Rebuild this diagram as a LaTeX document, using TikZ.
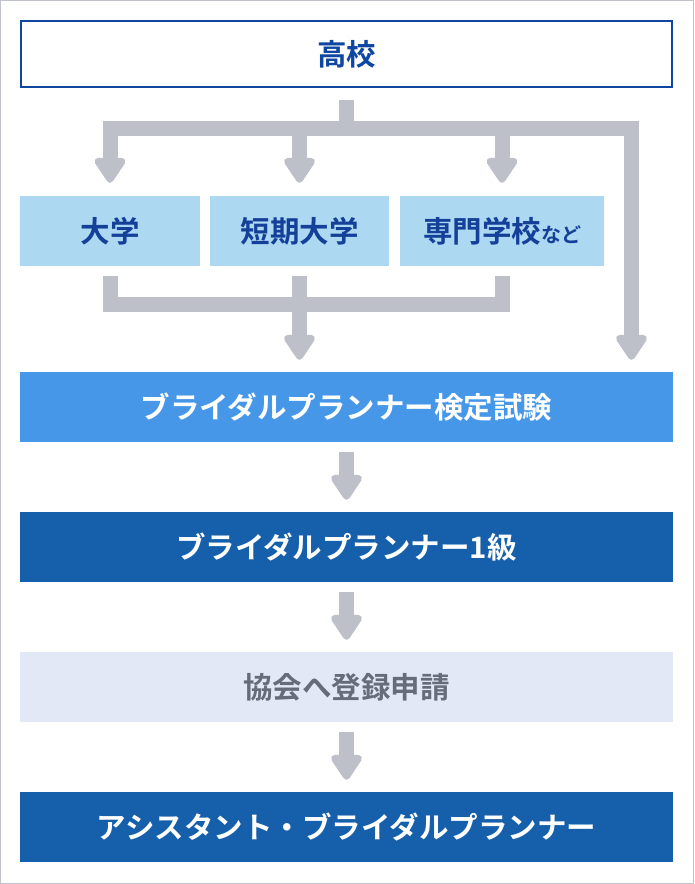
\documentclass[tikz,border=0pt]{standalone}
\usepackage{fontspec}
\newfontfamily\jp{Noto Sans CJK JP}[BoldFont={Noto Sans CJK JP Bold}]
\usetikzlibrary{arrows.meta,calc}
\definecolor{frame}{HTML}{C0C3CA}
\definecolor{navy}{HTML}{0D47A1}
\definecolor{pale}{HTML}{ADD8F2}
\definecolor{paletext}{HTML}{14409A}
\definecolor{mid}{HTML}{4797E8}
\definecolor{deep}{HTML}{165FAB}
\definecolor{mist}{HTML}{E2E8F5}
\definecolor{misttext}{HTML}{676C7A}
\definecolor{arrowgray}{HTML}{BDC0C8}
\begin{document}
\begin{tikzpicture}[x=1pt,y=-1pt,
  every node/.style={font=\jp\bfseries\fontsize{29.5}{33}\selectfont, inner sep=0pt, anchor=center},
  topbox/.style={draw=navy, line width=2pt, fill=white, text=navy, minimum width=651pt, minimum height=66pt},
  schoolbox/.style={fill=pale, text=paletext, minimum height=70pt},
  widebox/.style={minimum width=653pt, minimum height=70pt},
  flowarrow/.style={draw=arrowgray, line width=15pt, line join=miter,
    -{Triangle[length=28pt,width=35pt,line join=round]}},
  bararrow/.style={draw=arrowgray, line width=15pt, line join=miter,
    {Triangle[length=28pt,width=35pt,line join=round]}-{Triangle[length=28pt,width=35pt,line join=round]}},
  plainbar/.style={draw=arrowgray, line width=15pt, line join=miter}
]
\useasboundingbox (0,0) rectangle (694,884);
\draw[frame, line width=1pt] (0.5,0.5) rectangle (693.5,883.5);

\node[topbox] (koukou) at (346.5,54) {高校};
\node[schoolbox, minimum width=180pt] (daigaku) at (110,231) {大学};
\node[schoolbox, minimum width=179pt] (tanki) at (299.5,231) {短期大学};
\node[schoolbox, minimum width=204pt] (senmon) at (502,231) {専門学校{\fontsize{20}{24}\selectfont など}};
\node[widebox, fill=mid, text=white] (kentei) at (346.5,407) {ブライダルプランナー検定試験};
\node[widebox, fill=deep, text=white] (ikkyu) at (346.5,547) {ブライダルプランナー1級};
\node[widebox, fill=mist, text=misttext] (kyokai) at (346.5,687) {協会へ登録申請};
\node[widebox, fill=deep, text=white] (assist) at (346.5,827) {アシスタント・ブライダルプランナー};

% split from 高校
\coordinate (topstem) at ($(koukou.south)+(0,12)$);
\coordinate (topbar) at ($(topstem)+(0,28)$);
\coordinate (farright) at (631.5,0);
\draw[bararrow] ($(daigaku.north)+(0,-13)$) -- (daigaku.north |- topbar) -- (farright |- topbar) -- ($(farright |- kentei.north)+(0,-12)$);
\draw[plainbar] (topstem) -- (topbar);
\draw[flowarrow] (tanki.north |- topbar) -- ($(tanki.north)+(0,-13)$);
\draw[flowarrow] (senmon.north |- topbar) -- ($(senmon.north)+(0,-13)$);

% merge into 検定試験
\coordinate (lowbar) at ($(daigaku.south)+(0,38)$);
\draw[plainbar] ($(daigaku.south)+(0,10)$) -- (lowbar) -- (senmon.south |- lowbar) -- ($(senmon.south)+(0,10)$);
\draw[flowarrow] ($(tanki.south)+(0,10)$) -- ($(tanki.south |- kentei.north)+(0,-12)$);

% vertical chain
\draw[flowarrow] ($(kentei.south)+(0,10)$) -- ($(ikkyu.north)+(0,-12)$);
\draw[flowarrow] ($(ikkyu.south)+(0,10)$) -- ($(kyokai.north)+(0,-12)$);
\draw[flowarrow] ($(kyokai.south)+(0,10)$) -- ($(assist.north)+(0,-12)$);
\end{tikzpicture}
\end{document}
